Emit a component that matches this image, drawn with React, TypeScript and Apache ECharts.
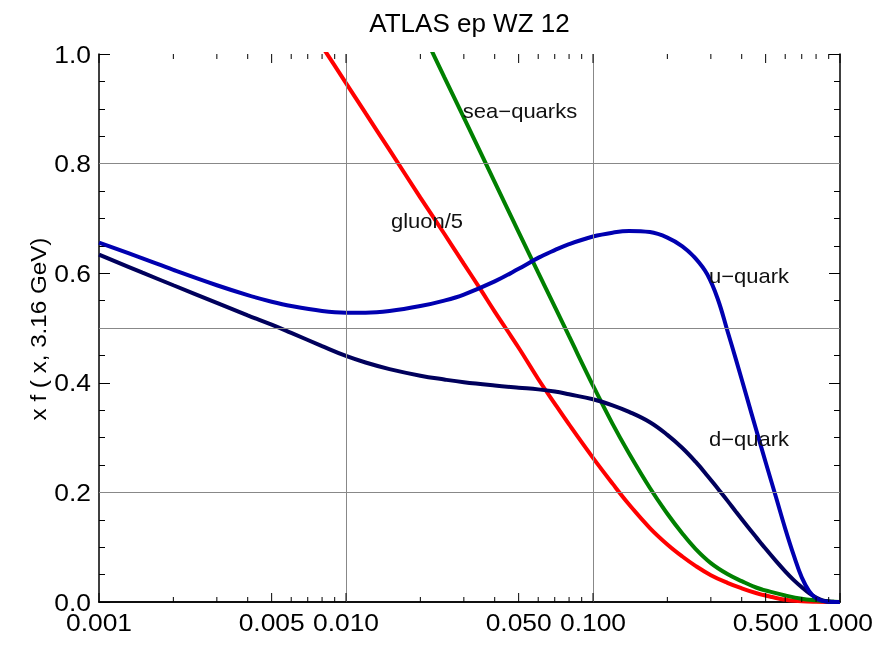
import React, { useEffect, useRef } from "react";
import * as echarts from "echarts";

const titleText = "ATLAS ep WZ 12";
const yAxisName = "x f ( x, 3.16 GeV)";

// shared x grid for u and d quarks
const xGrid = [0.001, 0.0015, 0.002, 0.003, 0.004, 0.005, 0.006, 0.008, 0.01, 0.012, 0.015, 0.02, 0.025, 0.03, 0.04, 0.05, 0.06, 0.07, 0.08, 0.1, 0.12, 0.14, 0.17, 0.2, 0.23, 0.26, 0.29, 0.32, 0.35, 0.38, 0.42, 0.46, 0.5, 0.55, 0.6, 0.65, 0.7, 0.75, 0.8, 0.85, 0.9, 0.95, 1.0];
const uQuark = [0.656, 0.627, 0.606, 0.578, 0.560, 0.548, 0.540, 0.531, 0.528, 0.528, 0.531, 0.540, 0.550, 0.561, 0.585, 0.608, 0.628, 0.642, 0.653, 0.667, 0.674, 0.677, 0.675, 0.665, 0.649, 0.627, 0.598, 0.553, 0.495, 0.441, 0.373, 0.311, 0.255, 0.192, 0.134, 0.085, 0.045, 0.020, 0.007, 0.002, 0.0004, 0, 0];
const dQuark = [0.634, 0.601, 0.578, 0.546, 0.523, 0.506, 0.491, 0.467, 0.449, 0.437, 0.425, 0.413, 0.406, 0.401, 0.395, 0.391, 0.388, 0.384, 0.379, 0.370, 0.359, 0.347, 0.328, 0.305, 0.281, 0.256, 0.231, 0.207, 0.185, 0.164, 0.139, 0.117, 0.097, 0.075, 0.056, 0.040, 0.027, 0.016, 0.008, 0.003, 0.001, 0.0002, 0];

const gluonX = [0.007, 0.008, 0.01, 0.012, 0.015, 0.02, 0.025, 0.03, 0.035, 0.04, 0.05, 0.06, 0.07, 0.08, 0.1, 0.12, 0.14, 0.17, 0.2, 0.23, 0.26, 0.3, 0.35, 0.4, 0.46, 0.53, 0.6, 0.7, 0.8, 0.9, 1.0];
const gluonOver5 = [1.054, 1.014, 0.947, 0.892, 0.825, 0.738, 0.672, 0.617, 0.571, 0.530, 0.464, 0.407, 0.362, 0.324, 0.263, 0.216, 0.178, 0.135, 0.105, 0.083, 0.066, 0.049, 0.035, 0.025, 0.016, 0.009, 0.004, 0.0015, 0.0005, 0.0001, 0];

const seaX = [0.02, 0.025, 0.03, 0.035, 0.04, 0.05, 0.06, 0.07, 0.08, 0.1, 0.12, 0.14, 0.17, 0.2, 0.23, 0.26, 0.3, 0.35, 0.4, 0.46, 0.53, 0.6, 0.7, 0.8, 0.9, 1.0];
const seaQuarks = [1.049, 0.958, 0.884, 0.821, 0.766, 0.675, 0.601, 0.539, 0.485, 0.395, 0.325, 0.271, 0.208, 0.161, 0.125, 0.097, 0.071, 0.051, 0.038, 0.026, 0.018, 0.012, 0.006, 0.003, 0.001, 0];

const xLabeledTicks = [0.001, 0.005, 0.01, 0.05, 0.1, 0.5, 1];
const xTickLabels = ["0.001", "0.005", "0.010", "0.050", "0.100", "0.500", "1.000"];
const xMinorTicks = [0.002, 0.003, 0.004, 0.006, 0.007, 0.008, 0.009, 0.02, 0.03, 0.04, 0.06, 0.07, 0.08, 0.09, 0.2, 0.3, 0.4, 0.6, 0.7, 0.8, 0.9];
const yTickValues = [0, 0.2, 0.4, 0.6, 0.8, 1.0];
const yTickLabels = ["0.0", "0.2", "0.4", "0.6", "0.8", "1.0"];
const gridXValues = [0.01, 0.1];
const gridYValues = [0.2, 0.5, 0.8];

const FONT = '"Liberation Sans", Arial, Helvetica, sans-serif';
const STRETCH = 1.1;

export default function App() {
  const ref = useRef<HTMLDivElement>(null);
  useEffect(() => {
    if (!ref.current) return;
    const chart = echarts.init(ref.current, null, { renderer: "svg" });
    const axisLine = { show: true, lineStyle: { color: "#000", width: 1.5 } };
    const xTickSeries = (values: number[], kind: number, withLabels: boolean) => ({
      type: "custom",
      xAxisIndex: 0,
      yAxisIndex: 0,
      clip: false,
      silent: true,
      z: 5,
      data: values.map((v) => [v, kind]),
      renderItem: (params: any, api: any) => {
        const v = api.value(0);
        const b = api.coord([v, 0]);
        const t = api.coord([v, 1]);
        const len = kind === 1 ? 9 : 5;
        const children: any[] = [
          { type: "line", shape: { x1: b[0], y1: b[1], x2: b[0], y2: b[1] - len }, style: { stroke: "#000", lineWidth: 1 } },
          { type: "line", shape: { x1: t[0], y1: t[1], x2: t[0], y2: t[1] + len }, style: { stroke: "#000", lineWidth: 1 } },
        ];
        if (withLabels) {
          children.push({
            type: "text",
            x: b[0],
            y: b[1] + 8,
            scaleX: STRETCH,
            style: { text: xTickLabels[params.dataIndex], fill: "#000", fontSize: 24, fontFamily: FONT, align: "center", verticalAlign: "top" },
          });
        }
        return { type: "group", children };
      },
    });
    const yLabelSeries = {
      type: "custom",
      xAxisIndex: 0,
      yAxisIndex: 0,
      clip: false,
      silent: true,
      z: 5,
      data: yTickValues.map((v) => [0.001, v]),
      renderItem: (params: any, api: any) => {
        const p = api.coord([api.value(0), api.value(1)]);
        return {
          type: "text",
          x: p[0] - 8,
          y: p[1],
          scaleX: STRETCH,
          style: { text: yTickLabels[params.dataIndex], fill: "#000", fontSize: 24, fontFamily: FONT, align: "right", verticalAlign: "middle" },
        };
      },
    };
    const curve = (name: string, xs: number[], ys: number[], color: string) => ({
      name,
      type: "line",
      data: xs.map((x, i) => [x, ys[i]]),
      showSymbol: false,
      smooth: 0.4,
      z: 3,
      lineStyle: { color, width: 4 },
      itemStyle: { color },
    });
    const yAxisBase = {
      type: "value", min: 0, max: 1, interval: 0.2,
      axisLine,
      axisTick: { show: true, inside: true, length: 11, lineStyle: { color: "#000", width: 1 } },
      minorTick: { show: true, splitNumber: 4, length: 6, lineStyle: { color: "#000", width: 1 } },
      axisLabel: { show: false },
      splitLine: { show: false },
    };
    const labelStyle = (text: string) => ({ text, fill: "#111", fontSize: 20, fontFamily: FONT, align: "center", verticalAlign: "middle" });
    chart.setOption({
      animation: false,
      grid: { left: 99, right: 54, top: 54, bottom: 48, containLabel: false },
      xAxis: [
        { type: "log", logBase: 10, min: 0.001, max: 1, position: "bottom", axisLine, axisTick: { show: false }, axisLabel: { show: false }, splitLine: { show: false } },
        { type: "log", logBase: 10, min: 0.001, max: 1, position: "top", axisLine, axisTick: { show: false }, axisLabel: { show: false }, splitLine: { show: false } },
      ],
      yAxis: [
        { ...yAxisBase, position: "left" },
        { ...yAxisBase, position: "right" },
      ],
      graphic: [
        { type: "text", x: 469.5, y: 23, scaleX: 1.04, style: { text: titleText, fill: "#000", fontSize: 25, fontFamily: FONT, align: "center", verticalAlign: "middle" } },
        { type: "text", x: 38, y: 329, rotation: Math.PI / 2, scaleX: STRETCH, style: { text: yAxisName, fill: "#000", fontSize: 22, fontFamily: FONT, align: "center", verticalAlign: "middle" } },
        { type: "text", x: 520, y: 111, z: 10, scaleX: STRETCH, style: labelStyle("sea\u2212quarks") },
        { type: "text", x: 427, y: 221, z: 10, scaleX: STRETCH, style: labelStyle("gluon/5") },
        { type: "text", x: 749, y: 276, z: 10, scaleX: STRETCH, style: labelStyle("u\u2212quark") },
        { type: "text", x: 749, y: 439, z: 10, scaleX: STRETCH, style: labelStyle("d\u2212quark") },
      ],
      series: [
        {
          type: "line",
          data: [],
          z: 1,
          markLine: {
            silent: true,
            symbol: ["none", "none"],
            label: { show: false },
            lineStyle: { color: "#888", width: 1, type: "solid" },
            data: [...gridXValues.map((v) => ({ xAxis: v })), ...gridYValues.map((v) => ({ yAxis: v }))],
          },
        },
        curve("gluon/5", gluonX, gluonOver5, "#ff0000"),
        curve("sea-quarks", seaX, seaQuarks, "#008000"),
        curve("d-quark", xGrid, dQuark, "#00005c"),
        curve("u-quark", xGrid, uQuark, "#0000b0"),
        xTickSeries(xMinorTicks, 0, false),
        xTickSeries(xLabeledTicks, 1, true),
        yLabelSeries,
      ],
    });
    return () => chart.dispose();
  }, []);
  return <div ref={ref} style={{ position: "fixed", left: 0, top: 0, width: 894, height: 650 }} />;
}
